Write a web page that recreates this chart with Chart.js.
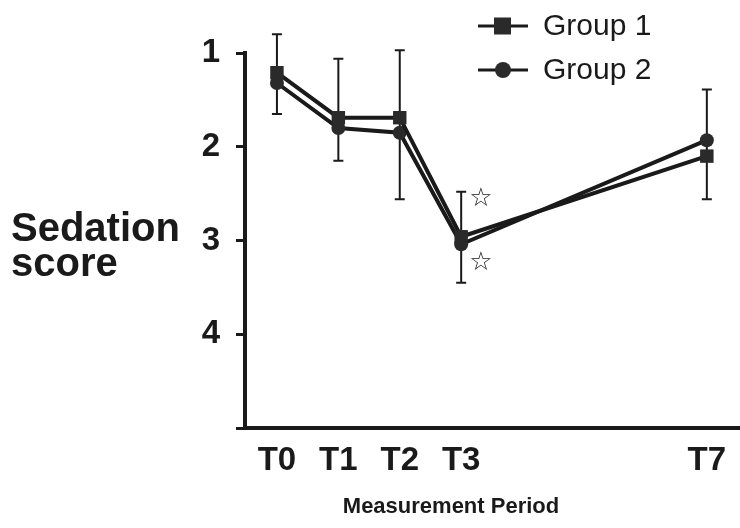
<!DOCTYPE html>
<html>
<head>
<meta charset="utf-8">
<script src="https://cdn.jsdelivr.net/npm/chart.js@4.4.1/dist/chart.umd.min.js"></script>
<style>
  html, body { margin: 0; padding: 0; background: #fff; }
  canvas { display: block; }
</style>
</head>
<body>
<canvas id="chart" width="740" height="528"></canvas>
<script>
// measurement periods (x positions in time units) and their labels
const periods = [0, 1, 2, 3, 7];
const periodLabels = ['T0', 'T1', 'T2', 'T3', 'T7'];

// mean sedation scores
const group1 = [1.21, 1.69, 1.69, 2.96, 2.10];
const group2 = [1.32, 1.80, 1.85, 3.04, 1.93];

// error bar ends (one bar per period)
const errTop = [0.80, 1.06, 0.97, 2.48, 1.39];
const errBottom = [1.65, 2.15, 2.56, 3.45, 2.56];

// significance markers next to T3
const starMarks = [{ x: 3.32, y: 2.56 }, { x: 3.32, y: 3.24 }];

const INK = '#1a1a1a';
const FONT = '"Liberation Sans", Arial, sans-serif';

const toPoints = (vals) => vals.map((v, i) => ({ x: periods[i], y: v }));

// error bars under the markers
const errorBars = {
    id: 'errorBars',
    beforeDatasetsDraw(chart) {
        const { ctx, scales: { x, y } } = chart;
        ctx.save();
        ctx.strokeStyle = INK;
        ctx.lineWidth = 2;
        periods.forEach((p, i) => {
            const px = x.getPixelForValue(p);
            const y1 = y.getPixelForValue(errTop[i]);
            const y2 = y.getPixelForValue(errBottom[i]);
            ctx.beginPath();
            ctx.moveTo(px, y1); ctx.lineTo(px, y2);
            ctx.moveTo(px - 5, y1); ctx.lineTo(px + 5, y1);
            ctx.moveTo(px - 5, y2); ctx.lineTo(px + 5, y2);
            ctx.stroke();
        });
        ctx.restore();
    }
};

// titles, stars and the legend
const decorations = {
    id: 'decorations',
    afterDraw(chart) {
        const { ctx, scales: { x, y } } = chart;
        ctx.save();
        ctx.fillStyle = INK;

        // y title
        ctx.font = 'bold 40px ' + FONT;
        ctx.textAlign = 'left';
        ctx.textBaseline = 'alphabetic';
        ctx.fillText('Sedation', 11, 241);
        ctx.fillText('score', 11, 276);

        // x title
        ctx.font = 'bold 22px ' + FONT;
        ctx.textAlign = 'center';
        ctx.fillText('Measurement Period', 451, 513);

        // stars
        ctx.font = '26px "DejaVu Sans", sans-serif';
        ctx.textBaseline = 'middle';
        starMarks.forEach(s => {
            ctx.fillText('\u2606', x.getPixelForValue(s.x), y.getPixelForValue(s.y));
        });

        // legend
        const items = [
            { label: 'Group 1', style: 'rect', cy: 26 },
            { label: 'Group 2', style: 'circle', cy: 70 }
        ];
        items.forEach(it => {
            ctx.strokeStyle = INK;
            ctx.lineWidth = 3;
            ctx.beginPath();
            ctx.moveTo(478, it.cy); ctx.lineTo(528, it.cy);
            ctx.stroke();
            ctx.fillStyle = '#2a2a2a';
            if (it.style === 'rect') {
                ctx.fillRect(494, it.cy - 8.5, 17, 17);
            } else {
                ctx.beginPath();
                ctx.arc(503, it.cy, 8, 0, Math.PI * 2);
                ctx.fill();
            }
            ctx.fillStyle = INK;
            ctx.font = '30px ' + FONT;
            ctx.textAlign = 'left';
            ctx.textBaseline = 'middle';
            ctx.fillText(it.label, 543, it.cy + 1);
        });
        ctx.restore();
    }
};

new Chart(document.getElementById('chart').getContext('2d'), {
    type: 'line',
    data: {
        datasets: [
            {
                label: 'Group 1',
                data: toPoints(group1),
                borderColor: INK,
                borderWidth: 4,
                pointStyle: 'rect',
                pointRadius: 9.5,
                pointBackgroundColor: '#2a2a2a',
                pointBorderWidth: 0,
                tension: 0
            },
            {
                label: 'Group 2',
                data: toPoints(group2),
                borderColor: INK,
                borderWidth: 4,
                pointStyle: 'circle',
                pointRadius: 7,
                pointBackgroundColor: '#2a2a2a',
                pointBorderWidth: 0,
                tension: 0
            }
        ]
    },
    options: {
        responsive: false,
        animation: false,
        layout: { autoPadding: false, padding: { top: 53, right: 0, left: 0, bottom: 0 } },
        plugins: {
            legend: { display: false },
            tooltip: { enabled: false }
        },
        scales: {
            x: {
                type: 'linear',
                min: -0.52,
                max: 7.54,
                afterFit(scale) { scale.height = 100; },
                afterBuildTicks(scale) { scale.ticks = periods.map(v => ({ value: v })); },
                grid: { display: false, drawTicks: false },
                border: { display: true, color: INK, width: 4 },
                ticks: {
                    padding: 13,
                    color: INK,
                    font: { family: FONT, size: 33, weight: 'bold' },
                    callback: (v) => periodLabels[periods.indexOf(v)] || ''
                }
            },
            y: {
                min: 1,
                max: 5,
                reverse: true,
                afterFit(scale) { scale.width = 245; },
                grid: {
                    drawOnChartArea: false,
                    drawTicks: true,
                    tickLength: 9,
                    color: INK,
                    lineWidth: 3
                },
                border: { display: true, color: INK, width: 4 },
                ticks: {
                    stepSize: 1,
                    padding: 16,
                    color: INK,
                    font: { family: FONT, size: 33, weight: 'bold' },
                    callback: (v) => (v === 5 ? '' : v)
                }
            }
        }
    },
    plugins: [errorBars, decorations]
});
</script>
</body>
</html>
